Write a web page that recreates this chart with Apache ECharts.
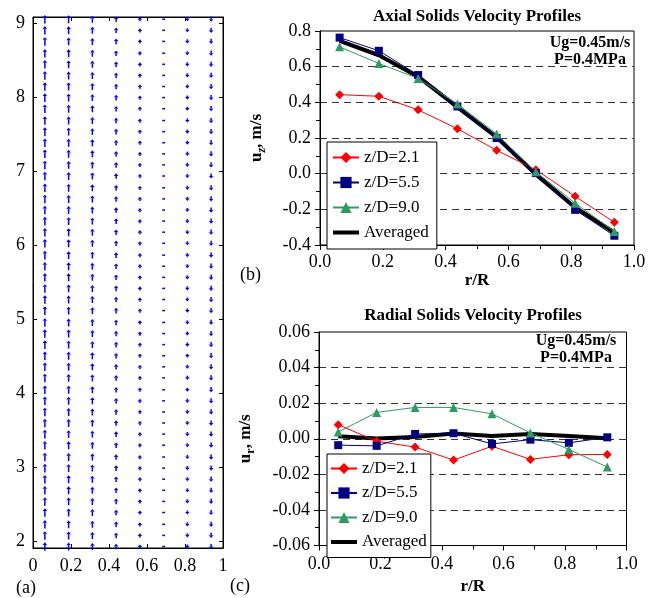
<!DOCTYPE html>
<html><head><meta charset="utf-8">
<script src="https://cdn.jsdelivr.net/npm/echarts@6/dist/echarts.min.js"></script>
<style>html,body{margin:0;padding:0;background:#fff}#c{width:656px;height:598px}</style>
</head><body><div id="c"></div>
<script>
// ---------- data ----------
const rPos = [0.0625, 0.1875, 0.3125, 0.4375, 0.5625, 0.6875, 0.8125, 0.9375];
const zRows = [1.93, 2.08, 2.23, 2.39, 2.54, 2.69, 2.84, 2.99, 3.14, 3.30, 3.45, 3.60,
  3.75, 3.90, 4.05, 4.21, 4.36, 4.51, 4.66, 4.81, 4.96, 5.12, 5.27, 5.42,
  5.57, 5.72, 5.87, 6.03, 6.18, 6.33, 6.48, 6.63, 6.78, 6.94, 7.09, 7.24,
  7.39, 7.54, 7.69, 7.85, 8.00, 8.15, 8.30, 8.45, 8.60, 8.76, 8.91, 9.06];
const axial21 = [0.443, 0.434, 0.358, 0.252, 0.131, 0.022, -0.127, -0.273];
const axial55 = [0.763, 0.689, 0.553, 0.377, 0.200, 0.003, -0.203, -0.348];
const axial90 = [0.711, 0.618, 0.534, 0.391, 0.222, 0.011, -0.166, -0.324];
const axialAvg = [0.744, 0.664, 0.544, 0.373, 0.204, -0.004, -0.190, -0.330];
const radial21 = [0.0079, -0.0014, -0.0047, -0.0120, -0.0042, -0.0116, -0.0090, -0.0088];
const radial55 = [-0.0036, -0.0040, 0.0027, 0.0031, -0.0029, -0.0005, -0.0023, 0.0008];
const radial90 = [0.0038, 0.0148, 0.0176, 0.0176, 0.0140, 0.0033, -0.0060, -0.0159];
const radialAvg = [0.0014, 0.0002, 0.0010, 0.0029, 0.0016, 0.0027, 0.0016, 0.0003];
const seriesNames = ['z/D=2.1', 'z/D=5.5', 'z/D=9.0', 'Averaged'];
const vecYTicks = [2, 3, 4, 5, 6, 7, 8, 9];
const titleB = 'Axial Solids Velocity Profiles';
const titleC = 'Radial Solids Velocity Profiles';
const condLines = ['Ug=0.45m/s', 'P=0.4MPa'];

// ---------- styling ----------
const FONT = "'Liberation Serif','DejaVu Serif',serif";
const COL = {red: '#ff0000', blue: '#000080', green: '#2f9a63', black: '#000000'};
const ARROW_PX = 8;    // pixels per m/s for the vector plot
const ARROW_BASE = 2.6; // minimum drawn arrow length (head)

const pairs = (xs, ys) => xs.map((x, i) => [x, ys[i]]);
const vecData = [];
rPos.forEach((r, i) => zRows.forEach(z => vecData.push([r, z, radialAvg[i], axialAvg[i]])));

function renderArrow(params, api) {
  const c = api.coord([api.value(0), api.value(1)]);
  const vx = api.value(2), vy = api.value(3);
  const speed = Math.hypot(vx, vy);
  const color = '#0000ff';
  if (speed * ARROW_PX < 0.5) {
    return {type: 'rect', shape: {x: c[0] - 1.4, y: c[1] - 0.75, width: 2.8, height: 1.5}, style: {fill: color}};
  }
  const ux = vx / speed, uy = -vy / speed;
  const len = ARROW_BASE + speed * ARROW_PX;
  const tail = [c[0] - ux * len / 2, c[1] - uy * len / 2], tip = [c[0] + ux * len / 2, c[1] + uy * len / 2];
  const h = 2.7, w = 2.3;
  const base = [tip[0] - ux * h, tip[1] - uy * h];
  const px = -uy, py = ux;
  const kids = [
    {type: 'polygon', shape: {points: [tip, [base[0] + px * w, base[1] + py * w], [base[0] - px * w, base[1] - py * w]]}, style: {fill: color}}
  ];
  if (len > h + 0.3) {
    kids.push({type: 'line', shape: {x1: tail[0], y1: tail[1], x2: base[0], y2: base[1]}, style: {stroke: color, lineWidth: 1.5}});
  }
  return {type: 'group', children: kids};
}

const fmt = d => v => (Math.abs(v) < 1e-9 ? 0 : v).toFixed(d);
const lblStyle = {color: '#000', fontFamily: FONT, fontSize: 18};
const axLine = {show: true, onZero: false, lineStyle: {color: '#000', width: 1}};
const dashed = {show: true, showMinLine: false, showMaxLine: false, lineStyle: {color: '#333', type: [7, 5], width: 1}};

function lineSeries(name, xIdx, ys, color, symbol, size) {
  return {
    name, type: 'line', xAxisIndex: xIdx, yAxisIndex: xIdx, data: pairs(rPos, ys),
    symbol, symbolSize: size, showSymbol: true,
    lineStyle: {color, width: 1}, itemStyle: {color},
    z: 3, animation: false
  };
}
function avgSeries(xIdx, ys) {
  return {
    name: 'Averaged', type: 'line', xAxisIndex: xIdx, yAxisIndex: xIdx, data: pairs(rPos, ys),
    symbol: 'none', showSymbol: false, lineStyle: {color: '#000', width: 4}, itemStyle: {color: '#000'},
    z: 2, animation: false
  };
}

// legend icon for the thick "Averaged" line (degenerate sub-paths keep the 26x14 box)
const avgIcon = 'path://M0,0 L26,0 Z M0,5 L26,5 L26,9 L0,9 Z M0,14 L26,14 Z';
const legendData = seriesNames.map(n => n === 'Averaged' ? {name: n, icon: avgIcon} : n);

const legendBase = {
  orient: 'vertical', data: legendData, itemWidth: 26, itemHeight: 14,
  borderColor: '#000', borderWidth: 1, backgroundColor: '#fff', itemGap: 8,
  textStyle: {fontFamily: FONT, fontSize: 17, color: '#000'}, selectedMode: false, z: 10
};

const chart = echarts.init(document.getElementById('c'), null, {renderer: 'canvas'});
chart.setOption({
  animation: false,
  backgroundColor: '#fff',
  grid: [
    {left: 33, top: 17, width: 190, height: 531, show: true, borderColor: '#000', borderWidth: 1},
    {left: 320, top: 31, width: 314, height: 214, show: true, borderColor: '#000', borderWidth: 1},
    {left: 319, top: 332, width: 307.5, height: 213.5, show: true, borderColor: '#000', borderWidth: 1}
  ],
  xAxis: [
    {gridIndex: 0, type: 'value', min: 0, max: 1, interval: 0.2, position: 'bottom',
      axisLine: axLine, axisTick: {inside: true, length: 4, lineStyle: {color: '#000'}},
      axisLabel: {...lblStyle, margin: 9}, splitLine: {show: false}},
    {gridIndex: 1, type: 'value', min: 0, max: 1, interval: 0.2, position: 'bottom',
      axisLine: axLine, axisTick: {length: 5, lineStyle: {color: '#000'}},
      minorTick: {show: true, splitNumber: 2, length: 4, lineStyle: {color: '#000'}},
      axisLabel: {...lblStyle, margin: 8, formatter: fmt(1)}, splitLine: {show: false},
      name: 'r/R', nameLocation: 'middle', nameGap: 23,
      nameTextStyle: {fontFamily: FONT, fontSize: 17, fontWeight: 'bold', color: '#000'}},
    {gridIndex: 2, type: 'value', min: 0, max: 1, interval: 0.2, position: 'bottom',
      axisLine: axLine, axisTick: {length: 5, lineStyle: {color: '#000'}},
      minorTick: {show: true, splitNumber: 2, length: 4, lineStyle: {color: '#000'}},
      axisLabel: {...lblStyle, margin: 10, formatter: fmt(1)}, splitLine: {show: false},
      name: 'r/R', nameLocation: 'middle', nameGap: 33,
      nameTextStyle: {fontFamily: FONT, fontSize: 17, fontWeight: 'bold', color: '#000'}},
    {gridIndex: 0, type: 'value', min: 0, max: 1, interval: 0.2, position: 'top',
      axisLine: axLine, axisTick: {inside: true, length: 4, lineStyle: {color: '#000'}},
      axisLabel: {show: false}, splitLine: {show: false}}
  ],
  yAxis: [
    {gridIndex: 0, type: 'value', min: 1.91, max: 9.09, position: 'left',
      axisLine: axLine,
      axisTick: {inside: true, length: 4, customValues: vecYTicks, lineStyle: {color: '#000'}},
      axisLabel: {...lblStyle, margin: 8, customValues: vecYTicks}, splitLine: {show: false}},
    {gridIndex: 1, type: 'value', min: -0.4, max: 0.8, interval: 0.2, position: 'left',
      axisLine: axLine, axisTick: {length: 5, lineStyle: {color: '#000'}},
      minorTick: {show: true, splitNumber: 2, length: 4, lineStyle: {color: '#000'}},
      axisLabel: {...lblStyle, margin: 9, formatter: fmt(1)}, splitLine: dashed,
      name: '{b|u}{s|z}{b|, m/s}', nameLocation: 'middle', nameGap: 52, nameRotate: 90,
      nameTextStyle: {fontFamily: FONT, color: '#000', rich: {
        b: {fontFamily: FONT, fontSize: 17, fontWeight: 'bold', lineHeight: 22, verticalAlign: 'middle'},
        s: {fontFamily: FONT, fontSize: 12, fontWeight: 'bold', fontStyle: 'italic', lineHeight: 12, verticalAlign: 'bottom', padding: [8, 0, 0, 0]}
      }}},
    {gridIndex: 2, type: 'value', min: -0.06, max: 0.06, interval: 0.02, position: 'left',
      axisLine: axLine, axisTick: {length: 5, lineStyle: {color: '#000'}},
      minorTick: {show: true, splitNumber: 2, length: 4, lineStyle: {color: '#000'}},
      axisLabel: {...lblStyle, margin: 9, formatter: fmt(2)}, splitLine: dashed,
      name: '{b|u}{s|r}{b|, m/s}', nameLocation: 'middle', nameGap: 62, nameRotate: 90,
      nameTextStyle: {fontFamily: FONT, color: '#000', rich: {
        b: {fontFamily: FONT, fontSize: 17, fontWeight: 'bold', lineHeight: 22, verticalAlign: 'middle'},
        s: {fontFamily: FONT, fontSize: 12, fontWeight: 'bold', lineHeight: 12, verticalAlign: 'bottom', padding: [8, 0, 0, 0]}
      }}},
    {gridIndex: 0, type: 'value', min: 1.91, max: 9.09, position: 'right',
      axisLine: axLine,
      axisTick: {inside: true, length: 4, customValues: vecYTicks, lineStyle: {color: '#000'}},
      axisLabel: {show: false}, splitLine: {show: false}}
  ],
  legend: [
    {...legendBase, left: 327, top: 142, padding: [7, 8, 8, 5]},
    {...legendBase, left: 327, top: 454, padding: [6, 4, 7, 3], itemGap: 7.5}
  ],
  series: [
    {type: 'custom', name: 'vectors', xAxisIndex: 0, yAxisIndex: 0, data: vecData, renderItem: renderArrow, clip: false, animation: false},
    avgSeries(1, axialAvg),
    lineSeries('z/D=2.1', 1, axial21, COL.red, 'diamond', 9),
    lineSeries('z/D=5.5', 1, axial55, COL.blue, 'rect', 8),
    lineSeries('z/D=9.0', 1, axial90, COL.green, 'triangle', 9),
    avgSeries(2, radialAvg),
    lineSeries('z/D=2.1', 2, radial21, COL.red, 'diamond', 9),
    lineSeries('z/D=5.5', 2, radial55, COL.blue, 'rect', 8),
    lineSeries('z/D=9.0', 2, radial90, COL.green, 'triangle', 9)
  ],
  graphic: [
    {type: 'text', x: 477, y: 17, style: {text: titleB, align: 'center', verticalAlign: 'middle', font: `bold 17px ${FONT}`, fill: '#000'}},
    {type: 'text', x: 473, y: 316, style: {text: titleC, align: 'center', verticalAlign: 'middle', font: `bold 17px ${FONT}`, fill: '#000'}},
    {type: 'text', x: 590, y: 43, style: {text: condLines[0], align: 'center', verticalAlign: 'middle', font: `bold 16px ${FONT}`, fill: '#000'}},
    {type: 'text', x: 590, y: 59.5, style: {text: condLines[1], align: 'center', verticalAlign: 'middle', font: `bold 16px ${FONT}`, fill: '#000'}},
    {type: 'text', x: 576, y: 341, style: {text: condLines[0], align: 'center', verticalAlign: 'middle', font: `bold 16px ${FONT}`, fill: '#000'}},
    {type: 'text', x: 576, y: 358, style: {text: condLines[1], align: 'center', verticalAlign: 'middle', font: `bold 16px ${FONT}`, fill: '#000'}},
    {type: 'text', x: 16, y: 588, style: {text: '(a)', align: 'left', verticalAlign: 'middle', font: `18px ${FONT}`, fill: '#000'}},
    {type: 'text', x: 240, y: 275, style: {text: '(b)', align: 'left', verticalAlign: 'middle', font: `18px ${FONT}`, fill: '#000'}},
    {type: 'text', x: 230, y: 586, style: {text: '(c)', align: 'left', verticalAlign: 'middle', font: `18px ${FONT}`, fill: '#000'}}
  ]
});
</script>
</body></html>
